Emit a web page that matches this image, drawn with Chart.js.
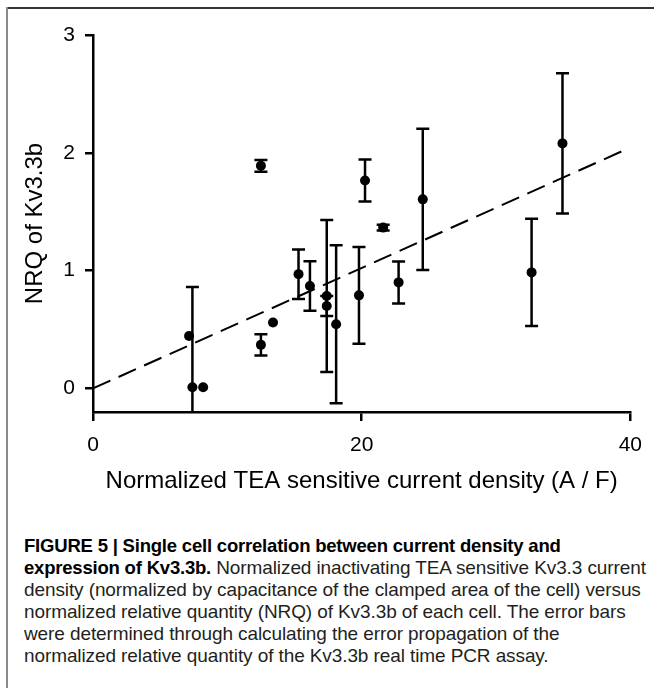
<!DOCTYPE html>
<html>
<head>
<meta charset="utf-8">
<script src="https://cdn.jsdelivr.net/npm/chart.js@4.4.0/dist/chart.umd.min.js"></script>
<style>
  html, body { margin: 0; padding: 0; background: #fff; }
  #page { position: relative; width: 654px; height: 688px; overflow: hidden; }
  #frameTop { position: absolute; left: 6px; top: 7px; width: 648px; height: 2px; background: #333; }
  #frameLeft { position: absolute; left: 6px; top: 7px; width: 2px; height: 681px; background: #8a8a8a; }
  #chartBox { position: absolute; left: 0; top: 0; width: 654px; height: 500px; }
  #caption { position: absolute; left: 24px; top: 535px; font-family: "Liberation Sans", Arial, sans-serif; font-size: 19px; line-height: 22px; color: #231f20; white-space: nowrap; letter-spacing: -0.1px; }
  #caption b { color: #000; font-size: 18.5px; letter-spacing: -0.2px; }
</style>
</head>
<body>
<div id="page">
  <div id="frameTop"></div>
  <div id="frameLeft"></div>
  <div id="chartBox"><canvas id="chart"></canvas></div>
  <div id="caption">
    <b>FIGURE 5 | Single cell correlation between current density and</b><br>
    <b>expression of Kv3.3b.</b> Normalized inactivating TEA sensitive Kv3.3 current<br>
    density (normalized by capacitance of the clamped area of the cell) versus<br>
    normalized relative quantity (NRQ) of Kv3.3b of each cell. The error bars<br>
    were determined through calculating the error propagation of the<br>
    normalized relative quantity of the Kv3.3b real time PCR assay.
  </div>
</div>
<script>
// cells: current density (A/F) vs NRQ of Kv3.3b, with error bar half-widths
const currentDensity = [7.15, 7.4, 8.2, 12.5, 12.5, 13.4, 15.3, 16.15, 17.4, 17.4, 18.1, 19.8, 20.25, 21.6, 22.75, 24.55, 32.65, 34.95];
const nrq = [0.445, 0.01, 0.01, 1.89, 0.37, 0.56, 0.97, 0.87, 0.785, 0.70, 0.545, 0.79, 1.765, 1.365, 0.90, 1.605, 0.985, 2.08];
const nrqError = [0, 0.85, 0, 0.05, 0.09, 0, 0.21, 0.21, 0.645, 0.085, 0.67, 0.41, 0.178, 0.025, 0.178, 0.6, 0.456, 0.595];

// dashed regression line end points
const fitX = [0, 39.7];
const fitY = [0, 2.03];

const xTicks = [0, 20, 40];
const yTicks = [0, 1, 2, 3];

const errorBars = {
    id: 'errorBars',
    beforeDatasetsDraw(chart) {
        const ctx = chart.ctx;
        const xs = chart.scales.x;
        const ys = chart.scales.y;
        const area = chart.chartArea;
        ctx.save();
        ctx.beginPath();
        ctx.rect(area.left - 10, area.top - 10, area.right - area.left + 20, area.bottom - area.top + 10);
        ctx.clip();
        ctx.strokeStyle = '#000';
        ctx.lineWidth = 2.5;
        currentDensity.forEach((x, i) => {
            const e = nrqError[i];
            if (!e) return;
            const px = xs.getPixelForValue(x);
            const top = ys.getPixelForValue(nrq[i] + e);
            const bottom = ys.getPixelForValue(nrq[i] - e);
            ctx.beginPath();
            ctx.moveTo(px, top);
            ctx.lineTo(px, bottom);
            ctx.moveTo(px - 6.5, top);
            ctx.lineTo(px + 6.5, top);
            ctx.moveTo(px - 6.5, bottom);
            ctx.lineTo(px + 6.5, bottom);
            ctx.stroke();
        });
        ctx.restore();
    }
};

const axisFont = { family: '"Liberation Sans", Arial, sans-serif', size: 21 };
const titleFont = { family: '"Liberation Sans", Arial, sans-serif', size: 24 };

new Chart(document.getElementById('chart'), {
    type: 'scatter',
    data: {
        datasets: [
            {
                data: currentDensity.map((x, i) => ({ x: x, y: nrq[i] })),
                pointRadius: 5,
                pointBackgroundColor: '#000',
                pointBorderWidth: 0,
                pointHoverRadius: 5
            },
            {
                type: 'line',
                data: fitX.map((x, i) => ({ x: x, y: fitY[i] })),
                borderColor: '#000',
                borderWidth: 2,
                borderDash: [19, 9],
                pointRadius: 0,
                fill: false
            }
        ]
    },
    plugins: [errorBars],
    options: {
        responsive: true,
        maintainAspectRatio: false,
        animation: false,
        events: [],
        layout: { padding: { left: 0, top: 35, right: 23, bottom: 0 } },
        plugins: { legend: { display: false }, tooltip: { enabled: false } },
        scales: {
            x: {
                type: 'linear',
                min: 0,
                max: 40,
                afterBuildTicks: (scale) => { scale.ticks = xTicks.map(v => ({ value: v })); },
                afterFit: (scale) => { scale.height = 88; },
                border: { display: true, color: '#000', width: 2.5 },
                grid: { drawOnChartArea: false, drawTicks: true, tickLength: 9, color: '#000', lineWidth: 2.5 },
                ticks: { color: '#000', font: axisFont, padding: 12, maxRotation: 0 },
                title: {
                    display: true,
                    text: 'Normalized TEA sensitive current density (A / F)',
                    color: '#000',
                    font: titleFont,
                    padding: { top: 0, bottom: 4 }
                }
            },
            y: {
                min: -0.2,
                max: 3,
                afterBuildTicks: (scale) => { scale.ticks = yTicks.map(v => ({ value: v })); },
                afterFit: (scale) => { scale.width = 93; },
                border: { display: true, color: '#000', width: 2.5 },
                grid: { drawOnChartArea: false, drawTicks: true, tickLength: 8, color: '#000', lineWidth: 2.5 },
                ticks: { color: '#000', font: axisFont, padding: 10 },
                title: {
                    display: true,
                    text: 'NRQ of Kv3.3b',
                    color: '#000',
                    font: titleFont,
                    padding: { top: 20.6, bottom: 0 }
                }
            }
        }
    }
});
</script>
</body>
</html>
